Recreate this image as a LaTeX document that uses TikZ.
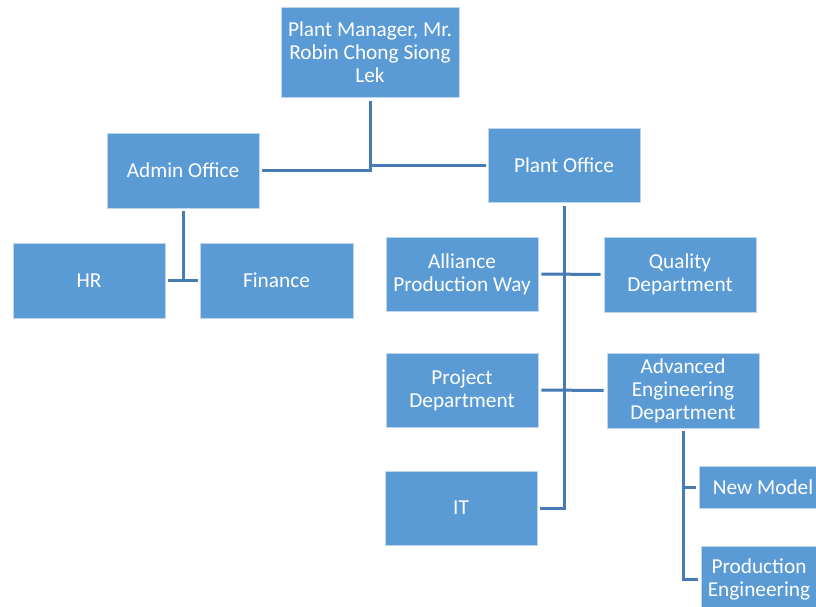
\documentclass[tikz,border=0pt]{standalone}
\usepackage{fontspec}
\setmainfont{Carlito}
\definecolor{boxblue}{RGB}{91,155,213}
\definecolor{boxedge}{RGB}{190,215,238}
\definecolor{linkblue}{RGB}{70,123,182}
\tikzset{
  orgbox/.style={rectangle, fill=boxblue, draw=boxedge, line width=0.7pt,
    text=white, align=center, inner sep=0pt,
    font=\fontsize{21.3}{23}\selectfont},
  conn/.style={draw=linkblue, line width=3pt}
}
\begin{document}
\begin{tikzpicture}[x=1pt,y=-1pt]
\useasboundingbox (0,0) rectangle (816,607);
\fill[white] (0,0) rectangle (816,607);
\clip (0,0) rectangle (816,607);
% boxes
\node[orgbox, minimum width=178pt, minimum height=90pt] (pm) at (370,52) {Plant Manager, Mr.\\Robin Chong Siong\\Lek};
\node[orgbox, minimum width=152pt, minimum height=75pt] (admin) at (183,170.5) {Admin Office};
\node[orgbox, minimum width=152pt, minimum height=74pt] (plant) at (564,165) {Plant Office};
\node[orgbox, minimum width=152pt, minimum height=75pt] (hr) at (89,280.5) {HR};
\node[orgbox, minimum width=153pt, minimum height=75pt] (fin) at (276.5,280.5) {Finance};
\node[orgbox, minimum width=152pt, minimum height=74pt] (apw) at (462,274) {Alliance\\Production Way};
\node[orgbox, minimum width=152pt, minimum height=75pt] (qual) at (680,274.5) {Quality\\Department};
\node[orgbox, minimum width=152pt, minimum height=74pt] (proj) at (462,390) {Project\\Department};
\node[orgbox, minimum width=152pt, minimum height=75pt] (aed) at (683,390.5) {Advanced\\Engineering\\Department};
\node[orgbox, minimum width=152pt, minimum height=74pt] (it) at (461,508) {IT};
\node[orgbox, minimum width=128pt, minimum height=42pt] (nm) at (763,487) {New Model};
\node[orgbox, minimum width=116pt, minimum height=66pt] (pe) at (759,579) {Production\\Engineering};
% connectors
\draw[conn] ([yshift=-4pt]pm.south) |- ([xshift=3pt]admin.east);
\draw[conn] (pm.south |- plant.west) -- ([xshift=-2pt]plant.west);
\draw[conn] ([yshift=-3pt]admin.south) -- (admin.south |- hr.east);
\draw[conn] ([xshift=3pt]hr.east) -- ([xshift=-2pt]fin.west);
\draw[conn] ([yshift=-4pt]plant.south) |- ([xshift=3pt]it.east);
\draw[conn] ([xshift=3pt]apw.east) -- ([xshift=-3pt]qual.west);
\draw[conn] ([xshift=3pt]proj.east) -- ([xshift=-3pt]aed.west);
\draw[conn] ([yshift=-3pt]aed.south) |- ([xshift=-3pt]pe.west);
\draw[conn] (aed.south |- nm.west) -- ([xshift=-3pt]nm.west);
\end{tikzpicture}
\end{document}
